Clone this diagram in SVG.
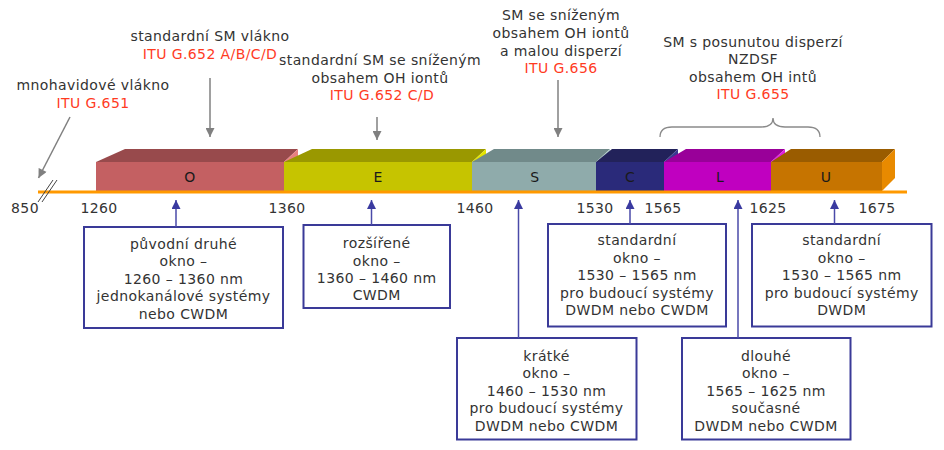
<svg xmlns="http://www.w3.org/2000/svg" width="944" height="450" viewBox="0 0 944 450">
<style>
text{font-family:"DejaVu Sans",Verdana,sans-serif;font-size:14px;fill:#333;text-anchor:middle;letter-spacing:0.4px}
.r{fill:#FF3B1F}
.bl{fill:#1a1a1a}
.box{fill:#fff;stroke:#3A3A98;stroke-width:2}
.bc{stroke:#4A4AA8;stroke-width:1.5;fill:none}
.gc{stroke:#808080;stroke-width:1.5;fill:none}
</style>
<defs>
<marker id="ag" viewBox="0 0 10 10" refX="10" refY="5" markerWidth="10" markerHeight="9" markerUnits="userSpaceOnUse" orient="auto"><path d="M0,0L10,5L0,10z" fill="#808080"/></marker>
<marker id="ab" viewBox="0 0 10 10" refX="10" refY="5" markerWidth="10" markerHeight="9" markerUnits="userSpaceOnUse" orient="auto"><path d="M0,0L10,5L0,10z" fill="#3A3AA0"/></marker>
</defs>
<rect width="944" height="450" fill="#fff"/>

<g id="band-O">
<rect x="96" y="162" width="188" height="29" fill="#C46062"/>
<polygon points="96,162 125,149 298,149 284,162" fill="#984A4C"/>
<polygon points="284,162 298,149 298,178 284,191" fill="#E88080"/>
<text x="190" y="182" class="bl">O</text>
</g>
<g id="band-E">
<rect x="284" y="162" width="188" height="29" fill="#C6C400"/>
<polygon points="284,162 312,149 486,149 472,162" fill="#9A9800"/>
<polygon points="472,162 486,149 486,178 472,191" fill="#E4E400"/>
<text x="378" y="182" class="bl">E</text>
</g>
<g id="band-S">
<rect x="472" y="162" width="124" height="29" fill="#8FABAB"/>
<polygon points="472,162 494,149 610,149 596,162" fill="#718A8A"/>
<polygon points="596,162 610,149 610,178 596,191" fill="#A8C4C4"/>
<text x="535" y="182" class="bl">S</text>
</g>
<g id="band-C">
<rect x="596" y="162" width="68" height="29" fill="#2A2A7A"/>
<polygon points="596,162 612,149 678,149 664,162" fill="#22225A"/>
<polygon points="664,162 678,149 678,178 664,191" fill="#3A3A90"/>
<text x="630" y="182" class="bl">C</text>
</g>
<g id="band-L">
<rect x="664" y="162" width="107" height="29" fill="#C000C0"/>
<polygon points="664,162 686,149 785,149 771,162" fill="#990099"/>
<polygon points="771,162 785,149 785,178 771,191" fill="#E020E0"/>
<text x="720" y="182" class="bl">L</text>
</g>
<g id="band-U">
<rect x="771" y="162" width="111" height="29" fill="#C67400"/>
<polygon points="771,162 791,149 895,149 882,162" fill="#9A5C00"/>
<polygon points="882,162 895,149 895,178 882,191" fill="#E88A00"/>
<text x="826" y="182" class="bl">U</text>
</g>

<g id="axis">
<line x1="38" y1="192" x2="907" y2="192" stroke="#FF9900" stroke-width="3"/>
<line x1="38" y1="202" x2="53" y2="180" stroke="#444" stroke-width="1"/>
<line x1="42" y1="202" x2="57" y2="180" stroke="#444" stroke-width="1"/>
<text x="25" y="213">850</text>
<text x="99" y="213">1260</text>
<text x="287" y="213">1360</text>
<text x="475" y="213">1460</text>
<text x="595" y="213">1530</text>
<text x="663" y="213">1565</text>
<text x="768" y="213">1625</text>
<text x="877" y="213">1675</text>
</g>

<g id="label-g651">
<text x="93" y="90">mnohavidové vlákno</text>
<text x="93" y="107.5" class="r">ITU G.651</text>
</g>
<g id="label-g652">
<text x="210" y="41">standardní SM vlákno</text>
<text x="210" y="58.5" class="r">ITU G.652 A/B/C/D</text>
</g>
<g id="label-g652cd">
<text x="380" y="65">standardní SM se sníženým</text>
<text x="380" y="82.5">obsahem OH iontů</text>
<text x="382" y="100" class="r">ITU G.652 C/D</text>
</g>
<g id="label-g656">
<text x="561" y="20">SM se sníženým</text>
<text x="561" y="38">obsahem OH iontů</text>
<text x="561" y="55.5">a malou disperzí</text>
<text x="561" y="73" class="r">ITU G.656</text>
</g>
<g id="label-g655">
<text x="753" y="46.5">SM s posunutou disperzí</text>
<text x="753" y="64">NZDSF</text>
<text x="753" y="81.5">obsahem OH intů</text>
<text x="753" y="99" class="r">ITU G.655</text>
</g>

<g id="box-o">
<rect x="84" y="227" width="199" height="101" class="box"/>
<text x="183.5" y="248.5">původní druhé</text>
<text x="183.5" y="266">okno –</text>
<text x="183.5" y="283.5">1260 – 1360 nm</text>
<text x="183.5" y="301">jednokanálové systémy</text>
<text x="183.5" y="318.5">nebo CWDM</text>
</g>
<g id="box-e">
<rect x="303.5" y="225" width="146.5" height="83" class="box"/>
<text x="376.7" y="248">rozšířené</text>
<text x="376.7" y="265.5">okno –</text>
<text x="376.7" y="283">1360 – 1460 nm</text>
<text x="376.7" y="300">CWDM</text>
</g>
<g id="box-c">
<rect x="548" y="224" width="178" height="102.5" class="box"/>
<text x="637" y="245">standardní</text>
<text x="637" y="262.5">okno –</text>
<text x="637" y="280">1530 – 1565 nm</text>
<text x="637" y="297.5">pro budoucí systémy</text>
<text x="637" y="315">DWDM nebo CWDM</text>
</g>
<g id="box-u">
<rect x="752" y="224" width="179.5" height="102.5" class="box"/>
<text x="841.7" y="245">standardní</text>
<text x="841.7" y="262.5">okno –</text>
<text x="841.7" y="280">1530 – 1565 nm</text>
<text x="841.7" y="297.5">pro budoucí systémy</text>
<text x="841.7" y="315">DWDM</text>
</g>
<g id="box-s">
<rect x="457" y="338" width="179.5" height="101.5" class="box"/>
<text x="546.5" y="360.5">krátké</text>
<text x="546.5" y="378">okno –</text>
<text x="546.5" y="395.5">1460 – 1530 nm</text>
<text x="546.5" y="413">pro budoucí systémy</text>
<text x="546.5" y="430.5">DWDM nebo CWDM</text>
</g>
<g id="box-l">
<rect x="682" y="338" width="168.5" height="101.5" class="box"/>
<text x="766" y="360.5">dlouhé</text>
<text x="766" y="378">okno –</text>
<text x="766" y="395.5">1565 – 1625 nm</text>
<text x="766" y="413">současné</text>
<text x="766" y="430.5">DWDM nebo CWDM</text>
</g>

<g id="connectors">
<line x1="70" y1="117" x2="38.5" y2="178" class="gc" marker-end="url(#ag)"/>
<line x1="210" y1="78" x2="210" y2="137" class="gc" marker-end="url(#ag)"/>
<line x1="377" y1="117" x2="377" y2="140" class="gc" marker-end="url(#ag)"/>
<line x1="558" y1="80" x2="558" y2="137" class="gc" marker-end="url(#ag)"/>
<path d="M660,137 Q660,127 672,127 L761,127 Q773,127 773,118 Q773,127 785,127 L808,127 Q820,127 820,137" stroke="#8A8A8A" stroke-width="1.3" fill="none"/>
<line x1="176" y1="227" x2="176" y2="200" class="bc" marker-end="url(#ab)"/>
<line x1="371.5" y1="225" x2="371.5" y2="200" class="bc" marker-end="url(#ab)"/>
<line x1="518.5" y1="338" x2="518.5" y2="200" class="bc" marker-end="url(#ab)"/>
<line x1="630" y1="224" x2="630" y2="200" class="bc" marker-end="url(#ab)"/>
<line x1="738" y1="338" x2="738" y2="200" class="bc" marker-end="url(#ab)"/>
<line x1="834.5" y1="224" x2="834.5" y2="200" class="bc" marker-end="url(#ab)"/>
</g>
</svg>
